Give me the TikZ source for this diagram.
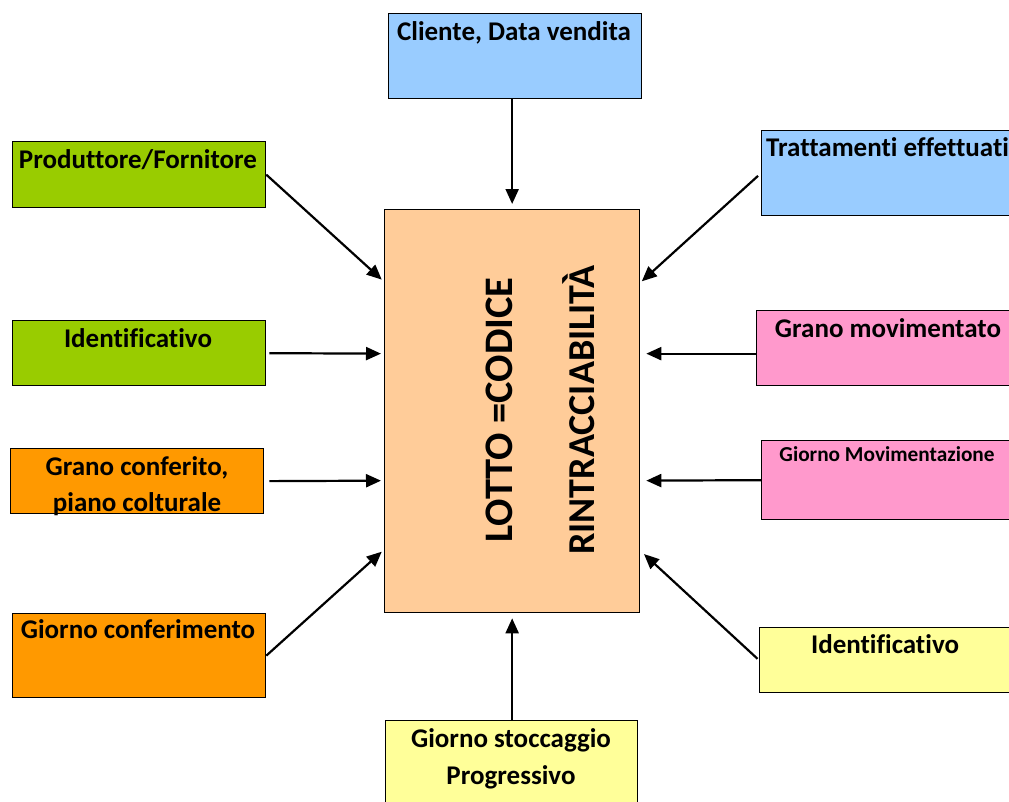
\documentclass[tikz,border=0pt]{standalone}
\usepackage{fontspec}
\setmainfont{Carlito}[Ligatures=NoCommon]
\usetikzlibrary{arrows.meta}
\definecolor{skyblue}{HTML}{99CCFF}
\definecolor{leafgreen}{HTML}{99CC00}
\definecolor{deeporange}{HTML}{FF9900}
\definecolor{softpink}{HTML}{FF99CC}
\definecolor{paleyellow}{HTML}{FFFF99}
\definecolor{peach}{HTML}{FFCC99}
\begin{document}
\begin{tikzpicture}[x=1pt,y=-1pt,
  box/.style={draw=black, line width=1.3pt, rectangle, inner sep=0pt, anchor=north west},
  lbl/.style={anchor=base, inner sep=0pt, font=\bfseries\fontsize{27}{31}\selectfont},
  small/.style={anchor=base, inner sep=0pt, font=\bfseries\fontsize{21.3}{25}\selectfont},
  big/.style={anchor=base, inner sep=0pt, rotate=90, font=\bfseries\fontsize{38}{44}\selectfont},
  arr/.style={line width=2.2pt, -{Triangle[length=15pt,width=13pt]}}]
\useasboundingbox (0,0) rectangle (1009,801);

% central block
\node[box, fill=peach, minimum width=255pt, minimum height=403pt] (cen) at (384,209) {};
\node[big, font=\bfseries\fontsize{40.5}{46}\selectfont] (lotto) at (512,410) {LOTTO =CODICE};
\node[big] (rintr) at (594,410) {RINTRACCIABILITÀ};

% top and bottom
\node[box, fill=skyblue, minimum width=253pt, minimum height=85pt] (cli) at (388,13) {};
\node[lbl] (clit) at (514,40) {Cliente, Data vendita};
\node[box, fill=paleyellow, minimum width=252pt, minimum height=95pt] (sto) at (385,720) {};
\node[lbl] (stot1) at (511,747) {Giorno stoccaggio};
\node[lbl] (stot2) at (511,784) {Progressivo};

% left column
\node[box, fill=leafgreen, minimum width=253pt, minimum height=66pt] (prod) at (12,141) {};
\node[lbl] (prodt) at (138,168) {Produttore/Fornitore};
\node[box, fill=leafgreen, minimum width=253pt, minimum height=65pt] (idl) at (12,320) {};
\node[lbl] (idlt) at (138,347) {Identificativo};
\node[box, fill=deeporange, minimum width=253pt, minimum height=65pt] (gcf) at (10,448) {};
\node[lbl] (gcft1) at (137,475) {Grano conferito,};
\node[lbl] (gcft2) at (137,511) {piano colturale};
\node[box, fill=deeporange, minimum width=253pt, minimum height=84pt] (gco) at (12,613) {};
\node[lbl] (gcot) at (138,638) {Giorno conferimento};

% right column
\node[box, fill=skyblue, minimum width=260pt, minimum height=85pt] (tra) at (761,130) {};
\node[lbl, anchor=base west] (trat) at (766,156) {Trattamenti effettuati};
\node[box, fill=softpink, minimum width=265pt, minimum height=75pt] (gmv) at (756,310) {};
\node[lbl] (gmvt) at (888,337) {Grano movimentato};
\node[box, fill=softpink, minimum width=260pt, minimum height=79pt] (gmz) at (761,440) {};
\node[small] (gmzt) at (887,461) {Giorno Movimentazione};
\node[box, fill=paleyellow, minimum width=262pt, minimum height=65pt] (idr) at (759,627) {};
\node[lbl] (idrt) at (885,653) {Identificativo};

% connectors into the central block
\draw[arr, shorten >=5pt] (cen.north |- cli.south) -- (cen.north);
\draw[arr, shorten >=5pt] (cen.south |- sto.north) -- (cen.south);
\draw[arr, shorten >=3pt] (prod.east) -- ([yshift=129.5pt]cen.west);
\draw[arr, shorten >=3pt, shorten <=3pt] (idl.east) -- ([yshift=57.5pt]cen.west);
\draw[arr, shorten >=3pt, shorten <=5pt] (gcf.east) -- ([yshift=-69.5pt]cen.west);
\draw[arr, shorten >=3pt] (gco.east) -- ([yshift=-138.5pt]cen.west);
\draw[arr, shorten >=2pt, shorten <=4pt] (tra.west) -- ([yshift=128.5pt]cen.east);
\draw[arr, shorten >=6pt] ([yshift=-5.5pt]gmv.west) -- ([yshift=57.5pt]cen.east);
\draw[arr, shorten >=6pt] (gmz.west) -- ([yshift=-69.5pt]cen.east);
\draw[arr, shorten >=5pt, shorten <=2pt] (idr.west) -- ([yshift=-139.5pt]cen.east);
\end{tikzpicture}
\end{document}
